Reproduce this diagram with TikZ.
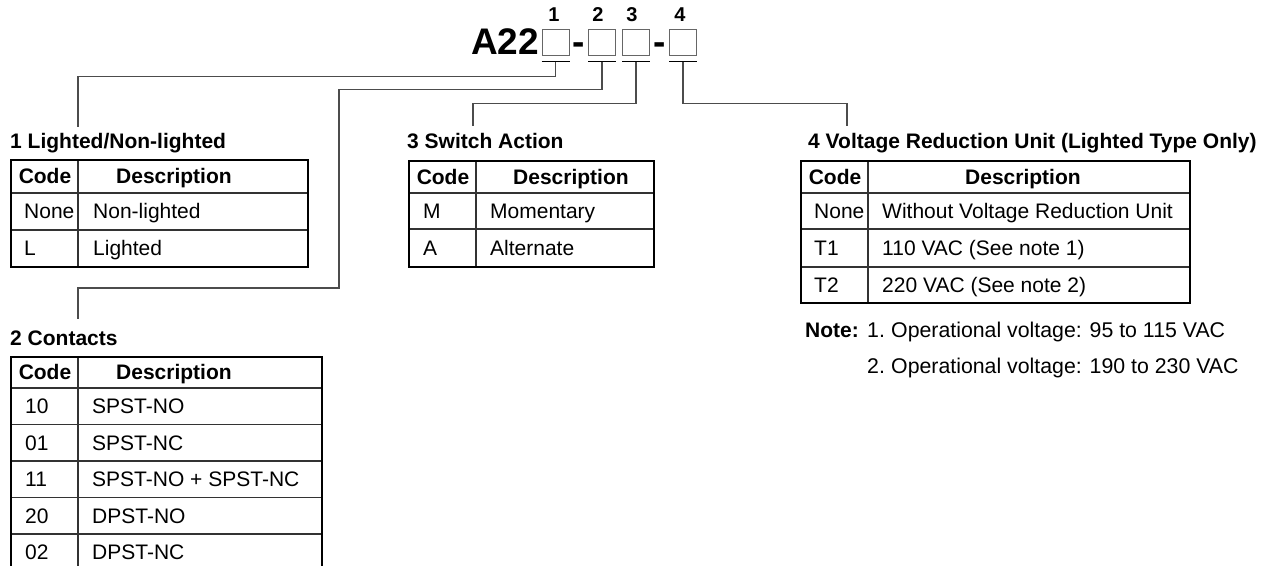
\documentclass[tikz,border=0pt]{standalone}
\usepackage{fontspec}
\setmainfont{Liberation Sans}
\usepackage{tikz}

\tikzset{
  tabframe/.style={line width=2.4pt},
  tabrule/.style={line width=1.1pt, draw=black!80},
  cell/.style={anchor=west, inner sep=0pt, text height=14pt, text depth=0pt,
    font=\fontsize{21}{25}\selectfont},
  headcell/.style={cell, font=\fontsize{21}{25}\selectfont\bfseries},
  ttl/.style={anchor=base west, inner sep=0pt, font=\fontsize{21}{25}\selectfont\bfseries},
  notetext/.style={anchor=base west, inner sep=0pt, font=\fontsize{21.3}{25}\selectfont},
  conn/.style={draw=black!70, line width=1.5pt},
  slot/.style={draw=black!60, line width=1pt, minimum width=27pt, minimum height=26pt, inner sep=0pt},
}

\begin{document}
\begin{tikzpicture}[x=1pt,y=-1pt]
    \clip (0,0) rectangle (1266,565);

    % model code
    \node[anchor=base west, inner sep=0pt, font=\fontsize{37}{40}\selectfont\bfseries] (model) at (471,54) {A22};
    \node[slot] (b1) at (555.5,42) {};
    \node[slot] (b2) at (602,42) {};
    \node[slot] (b3) at (636,42) {};
    \node[slot] (b4) at (683,42) {};
    \node[anchor=base, inner sep=0pt, font=\fontsize{37}{40}\selectfont\bfseries] (m1) at (579,54) {-};
    \node[anchor=base, inner sep=0pt, font=\fontsize{37}{40}\selectfont\bfseries] (m2) at (659.5,54) {-};
    \foreach \i/\xx in {1/554,2/598,3/632,4/680}
      \node[anchor=base, inner sep=0pt, font=\fontsize{20}{23}\selectfont\bfseries] (n\i) at (\xx,21) {\i};
    \foreach \i in {1,...,4}
      \draw[line width=1.8pt] ([yshift=-6pt]b\i.south west) -- ([yshift=-6pt]b\i.south east);

    % connectors
    \coordinate (e1) at (78,127);
    \coordinate (k2) at (339,288);
    \coordinate (e2) at (78,319);
    \coordinate (e3) at (473,126);
    \coordinate (e4) at (847,126);
    \draw[conn] ([yshift=-6pt]b1.south) -- ++(0,15) -| (e1);
    \draw[conn] ([yshift=-6pt]b2.south) -- ++(0,28) -| (k2) -| (e2);
    \draw[conn] ([yshift=-6pt]b3.south) -- ++(0,42) -| (e3);
    \draw[conn] ([yshift=-6pt]b4.south) -- ++(0,42) -| (e4);

    % 1 Lighted/Non-lighted
    \node[ttl] (t1) at (10,148) {1 Lighted/Non-lighted};
    \draw[tabrule] (78,160) -- (78,267);
    \foreach \yy in {193,230} \draw[tabrule] (11,\yy) -- (308,\yy);
    \draw[tabframe] (11,160) rectangle (308,267);
    \node[headcell,anchor=center] (c1h) at (45,176.5) {Code};
    \node[headcell] (d1h) at (116,176.5) {Description};
    \foreach \cd/\ds [count=\i] in {None/Non-lighted, L/Lighted} {
      \node[cell] (c1\i) at (24,174.5+37*\i) {\cd};
      \node[cell] (d1\i) at (93,174.5+37*\i) {\ds};
    }

    % 2 Contacts
    \node[ttl] (t2) at (10,345) {2 Contacts};
    \draw[tabrule] (78,357) -- (78,600);
    \foreach \k in {0,...,4} \draw[tabrule] (11,388+36.5*\k) -- (322,388+36.5*\k);
    \draw[tabframe] (11,357) rectangle (322,600);
    \node[headcell,anchor=center] (c2h) at (45,372.5) {Code};
    \node[headcell] (d2h) at (116,372.5) {Description};
    \foreach \cd/\ds [count=\i] in {10/SPST-NO, 01/SPST-NC, 11/SPST-NO + SPST-NC, 20/DPST-NO, 02/DPST-NC} {
      \node[cell] (c2\i) at (25,370+36.5*\i) {\cd};
      \node[cell] (d2\i) at (92,370+36.5*\i) {\ds};
    }

    % 3 Switch Action
    \node[ttl] (t3) at (407,148) {3 Switch Action};
    \draw[tabrule] (476,161) -- (476,267);
    \foreach \yy in {193,229} \draw[tabrule] (409,\yy) -- (654,\yy);
    \draw[tabframe] (409,161) rectangle (654,267);
    \node[headcell,anchor=center] (c3h) at (443,177) {Code};
    \node[headcell] (d3h) at (513,177) {Description};
    \foreach \cd/\ds [count=\i] in {M/Momentary, A/Alternate} {
      \node[cell] (c3\i) at (423,174+37*\i) {\cd};
      \node[cell] (d3\i) at (490,174+37*\i) {\ds};
    }

    % 4 Voltage Reduction Unit
    \node[ttl] (t4) at (808,148) {4 Voltage Reduction Unit (Lighted Type Only)};
    \draw[tabrule] (868,161) -- (868,303);
    \foreach \yy in {193,229,267} \draw[tabrule] (801,\yy) -- (1190,\yy);
    \draw[tabframe] (801,161) rectangle (1190,303);
    \node[headcell,anchor=center] (c4h) at (835,177) {Code};
    \node[headcell] (d4h) at (965,177) {Description};
    \foreach \cd/\ds [count=\i] in {None/Without Voltage Reduction Unit, T1/110 VAC (See note 1), T2/220 VAC (See note 2)} {
      \node[cell] (c4\i) at (814,174+37*\i) {\cd};
      \node[cell] (d4\i) at (882,174+37*\i) {\ds};
    }

    % notes
    \node[ttl] (note) at (805,337) {Note:};
    \node[notetext] (no1) at (867,337) {1.};
    \node[notetext] (nt1) at (891,337) {Operational voltage: 95 to 115 VAC};
    \node[notetext] (no2) at (867,373) {2.};
    \node[notetext] (nt2) at (891,373) {Operational voltage: 190 to 230 VAC};
\end{tikzpicture}
\end{document}
